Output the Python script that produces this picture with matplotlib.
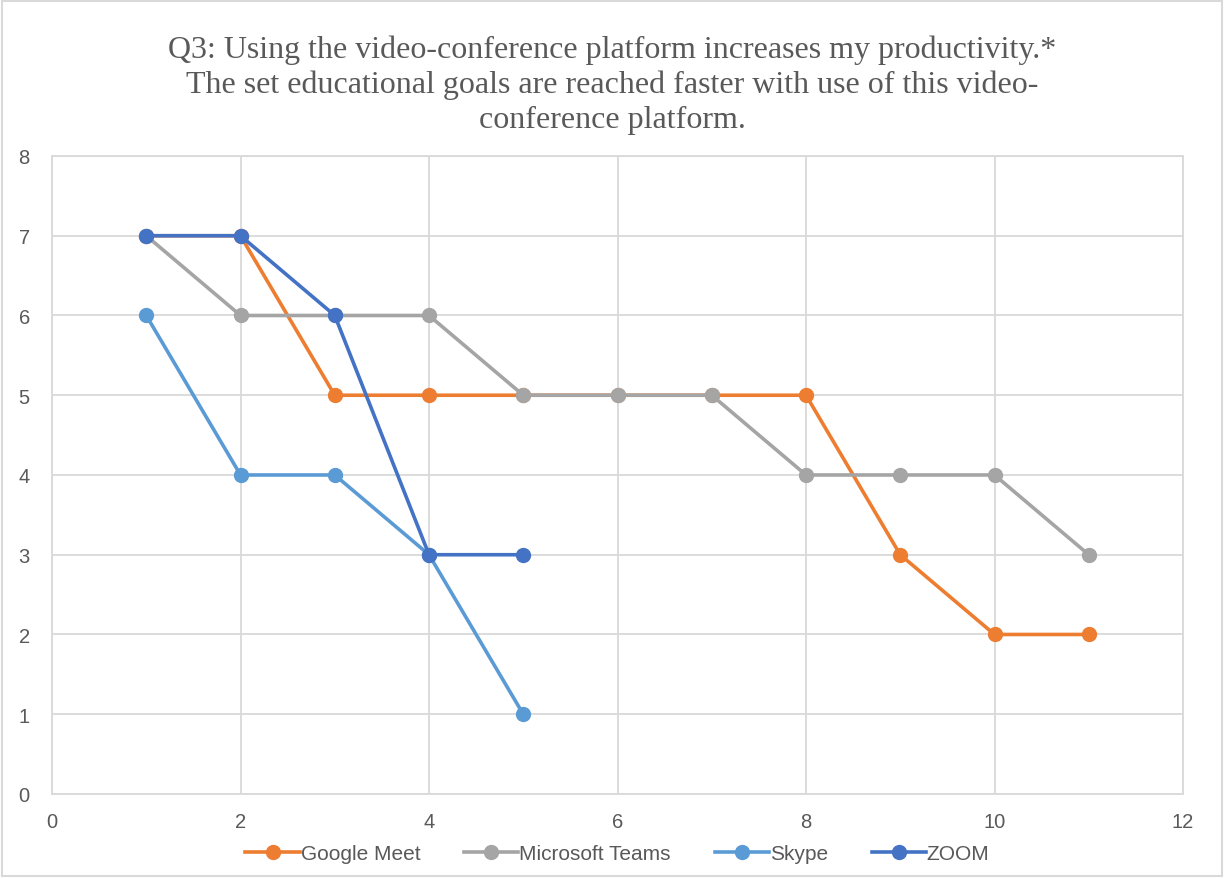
import matplotlib
matplotlib.use("Agg")
import matplotlib.pyplot as plt
from matplotlib.patches import Rectangle

x_meet = list(range(1, 12))
y_meet = [7, 7, 5, 5, 5, 5, 5, 5, 3, 2, 2]
x_teams = list(range(1, 12))
y_teams = [7, 6, 6, 6, 5, 5, 5, 4, 4, 4, 3]
x_skype = list(range(1, 6))
y_skype = [6, 4, 4, 3, 1]
x_zoom = list(range(1, 6))
y_zoom = [7, 7, 6, 3, 3]

title = ("Q3: Using the video-conference platform increases my productivity.*\n"
         "The set educational goals are reached faster with use of this video-\n"
         "conference platform.")

GRID = "#D9D9D9"
TEXT = "#595959"

fig = plt.figure(figsize=(12.24, 8.79), dpi=100)
ax = fig.add_axes([0.0425, 0.0956, 0.924, 0.7258])

LINE_STYLE = {"linewidth": 2.6, "marker": "o", "markersize": 10}
ax.plot(x_meet, y_meet, color="#ED7D31", label="Google Meet", **LINE_STYLE)
ax.plot(x_teams, y_teams, color="#A5A5A5", label="Microsoft Teams", **LINE_STYLE)
ax.plot(x_skype, y_skype, color="#5B9BD5", label="Skype", **LINE_STYLE)
ax.plot(x_zoom, y_zoom, color="#4472C4", label="ZOOM", **LINE_STYLE)

ax.set_xlim(0, 12)
ax.set_ylim(0, 8)
ax.set_xticks(range(0, 13, 2))
ax.set_yticks(range(0, 9))
ax.grid(True, color=GRID, linewidth=1.3)
ax.set_axisbelow(True)
for s in ax.spines.values():
    s.set_color(GRID)
    s.set_linewidth(1.3)
ax.tick_params(length=0, labelsize=14.5, labelcolor=TEXT)
ax.tick_params(axis="x", pad=13)
ax.tick_params(axis="y", pad=16)
for lab in ax.get_xticklabels() + ax.get_yticklabels():
    lab.set_fontfamily("Liberation Sans")

fig.text(0.5, 0.96, title, ha="center", va="top", fontsize=23,
         family="Liberation Serif", color=TEXT, linespacing=1.26)

ax.legend(loc="upper center", bbox_to_anchor=(0.5, -0.062), ncol=4,
          frameon=False, prop={"family": "Liberation Sans", "size": 15},
          labelcolor=TEXT, handlelength=2.6, handletextpad=0.05,
          columnspacing=2.1, borderpad=0)

fig.patches.append(Rectangle((0.002, 0.002), 0.996, 0.996, transform=fig.transFigure,
                             fill=False, edgecolor=GRID, linewidth=1.5))

fig.savefig("out.png", dpi=100, facecolor="white")
